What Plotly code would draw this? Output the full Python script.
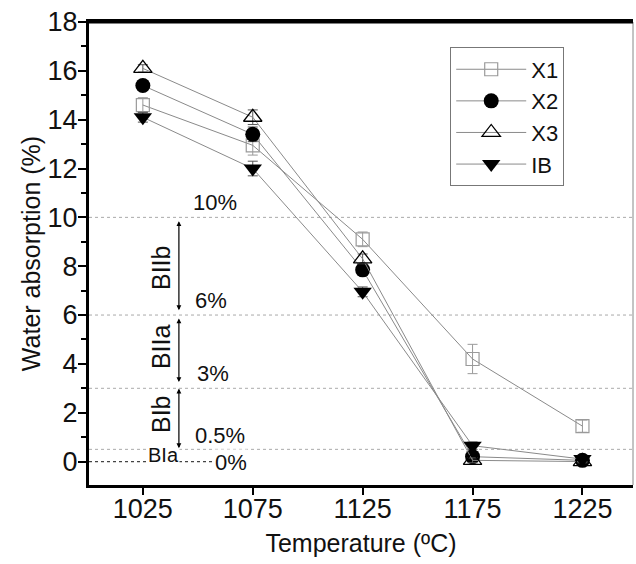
import plotly.graph_objects as go

temps = [1025, 1075, 1125, 1175, 1225]
x1 = [14.6, 12.95, 9.1, 4.2, 1.45]
x2 = [15.4, 13.4, 7.85, 0.2, 0.05]
x3 = [16.1, 14.1, 8.3, 0.05, 0.0]
ib = [14.1, 12.0, 6.95, 0.65, 0.1]
x1_err = [0.3, 0.4, 0.3, 0.6, 0.25]
x2_err = [0.2, 0.3, 0.2, 0.1, 0.05]
x3_err = [0.15, 0.3, 0.2, 0.1, 0.05]
ib_err = [0.2, 0.3, 0.2, 0.15, 0.1]

limits = [10, 6, 3, 0.5]
limit_labels = ["10%", "6%", "3%", "0.5%"]
classes = ["BIIb", "BIIa", "BIb"]

FONT = "Liberation Sans, Arial, sans-serif"
LINE = "#8a8a8a"

fig = go.Figure()
series = [
    ("X1", x1, x1_err, dict(symbol="square-open", size=13, color="#9a9a9a", line=dict(width=1.2, color="#9a9a9a")), "#9a9a9a"),
    ("X2", x2, x2_err, dict(symbol="circle", size=15, color="black"), "#555"),
    ("X3", x3, x3_err, dict(symbol="triangle-up-open", size=16, color="black", line=dict(width=1.3, color="black")), "#555"),
    ("IB", ib, ib_err, dict(symbol="triangle-down", size=16, color="black"), "#555"),
]
for name, ys, err, mk, ecol in series:
    fig.add_trace(go.Scatter(
        x=temps, y=ys, name=name, mode="lines+markers",
        line=dict(color=LINE, width=1),
        marker=mk,
        error_y=dict(type="data", array=err, color=ecol, thickness=1, width=5),
    ))

# dotted limit lines
for v in limits:
    fig.add_shape(type="line", xref="paper", x0=0, x1=1, yref="y", y0=v, y1=v,
                  line=dict(color="#aaaaaa", width=1, dash="dot"), layer="below")
fig.add_shape(type="line", xref="x", x0=1000.5, x1=1058, yref="y", y0=0, y1=0,
              line=dict(color="#444", width=1.2, dash="dot"), layer="below")

# frame: gray right border, black top border
fig.add_shape(type="line", xref="paper", x0=1, x1=1, yref="paper", y0=0, y1=1,
              line=dict(color="#888", width=1))
fig.add_shape(type="rect", xref="paper", x0=-0.003, x1=1.0, yref="paper", y0=0.9965, y1=1.0035,
              line=dict(width=0), fillcolor="black", layer="above")

TF = dict(size=22, color="#111", family=FONT)
ann = []
label_pos = [(1057.7, 10.6), (1056.0, 6.58), (1056.9, 3.59), (1060.1, 1.05)]
for (xp, yp), t in zip(label_pos, limit_labels):
    ann.append(dict(x=xp, y=yp, text=t, showarrow=False, yanchor="middle", font=TF))
ann.append(dict(x=1034.2, y=0.27, text="BIa", showarrow=False, yanchor="middle",
                font=dict(size=20, color="#111", family=FONT), bgcolor="white", borderpad=0))
ann.append(dict(x=1065.1, y=-0.02, text="0%", showarrow=False, yanchor="middle",
                font=TF, bgcolor="white", borderpad=0))

arrows = [(9.9, 6.2), (5.92, 3.26), (3.05, 0.55)]
class_y = [7.93, 4.69, 1.95]
for (top, bot), c, cy in zip(arrows, classes, class_y):
    ann.append(dict(x=1041.4, y=bot, ax=1041.4, ay=top, xref="x", yref="y",
                    axref="x", ayref="y", text="", showarrow=True, arrowhead=2,
                    arrowside="end+start", arrowsize=0.8, arrowwidth=1.2, arrowcolor="black"))
    ann.append(dict(x=1033.3, y=cy, text=c, showarrow=False, textangle=-90,
                    font=dict(size=25, color="#111", family=FONT)))

fig.update_layout(
    width=636, height=564,
    margin=dict(l=89, r=3, t=22, b=79),
    paper_bgcolor="white", plot_bgcolor="white",
    font=dict(family=FONT, size=25, color="#111"),
    showlegend=True,
    legend=dict(x=0.664, y=0.945, xanchor="left", yanchor="top",
                bordercolor="#777", borderwidth=1, bgcolor="white",
                font=dict(size=22, family=FONT), tracegroupgap=0, itemwidth=70),
    annotations=ann,
)
fig.update_xaxes(range=[1000.5, 1248], tickvals=temps, ticktext=[str(t) for t in temps],
                 showline=True, linecolor="black", linewidth=3, mirror=True,
                 ticks="outside", ticklen=7, tickwidth=2, tickcolor="black",
                 ticklabelstandoff=-9,
                 showgrid=False, zeroline=False, automargin=False,
                 title=dict(text="Temperature (ºC)", font=dict(size=25), standoff=12),
                 tickfont=dict(size=27))
fig.update_yaxes(range=[-0.96, 18], tickvals=list(range(0, 19, 2)),
                 showline=True, linecolor="black", linewidth=3,
                 ticks="outside", ticklen=8, tickwidth=2, tickcolor="black",
                 ticklabelstandoff=-5, ticklabeloverflow="allow",
                 minor=dict(tickvals=list(range(-1, 19, 1)), ticks="outside", ticklen=5, tickwidth=2, tickcolor="black"),
                 showgrid=False, zeroline=False, automargin=False,
                 title=dict(text="Water absorption (%)", font=dict(size=25), standoff=0),
                 tickfont=dict(size=27))

# remove the default 8px page margin so the figure fills the 636x564 window exactly
fig.write_html("out.html", config={"displayModeBar": False},
               post_script="document.body.style.margin='0';")
